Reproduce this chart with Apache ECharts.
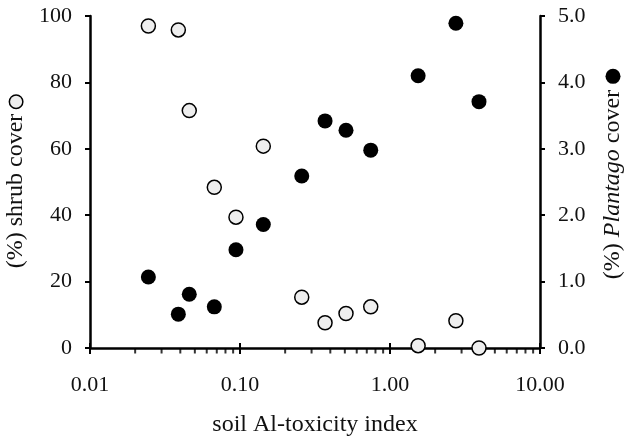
<!DOCTYPE html>
<html>
<head>
<meta charset="utf-8">
<script src="https://cdn.jsdelivr.net/npm/echarts@6/dist/echarts.min.js"></script>
<style>
  html, body { margin: 0; padding: 0; background: #fff; }
  #chart { width: 626px; height: 439px; }
</style>
</head>
<body>
<div id="chart"></div>
<script>
// soil Al-toxicity index per site (shared by both series)
var alIndex = [0.0245, 0.0388, 0.0459, 0.0674, 0.094, 0.143, 0.258, 0.369, 0.509, 0.744, 1.54, 2.75, 3.92];
// (%) shrub cover - left axis
var shrubCover = [97.0, 95.8, 71.5, 48.4, 39.4, 60.8, 15.3, 7.6, 10.4, 12.4, 0.7, 8.2, 0];
// (%) Plantago cover - right axis
var plantagoCover = [1.07, 0.51, 0.81, 0.62, 1.48, 1.86, 2.59, 3.42, 3.28, 2.98, 4.10, 4.89, 3.71];
// minor log ticks on x axis
var minorTicks = [0.02, 0.03, 0.04, 0.05, 0.06, 0.07, 0.08, 0.09,
                  0.2, 0.3, 0.4, 0.5, 0.6, 0.7, 0.8, 0.9,
                  2, 3, 4, 5, 6, 7, 8, 9];

var font = 'Liberation Serif';

function pairs(xs, ys) {
  return xs.map(function (x, i) { return [x, ys[i]]; });
}

var chart = echarts.init(document.getElementById('chart'));

var option = {
  backgroundColor: '#fff',
  animation: false,
  grid: { left: 90, right: 86, top: 16, bottom: 91, containLabel: false, outerBoundsMode: 'none' },
  xAxis: [
    {
      type: 'log',
      logBase: 10,
      min: 0.01,
      max: 10,
      name: 'soil Al-toxicity index',
      nameLocation: 'middle',
      nameGap: 65,
      nameTextStyle: { fontFamily: font, fontSize: 24, color: '#111' },
      axisLine: { lineStyle: { color: '#000', width: 2.5 } },
      axisTick: { inside: false, length: 6, lineStyle: { color: '#000', width: 2 } },
      axisLabel: {
        fontFamily: font, fontSize: 22, color: '#111', margin: 26,
        formatter: function (v) { return v.toFixed(2); }
      },
      splitLine: { show: false }
    },
    {
      // inner half of the major ticks (they cross the axis line)
      type: 'log',
      logBase: 10,
      min: 0.01,
      max: 10,
      position: 'bottom',
      axisLine: { show: false },
      axisTick: { inside: true, length: 5, lineStyle: { color: '#000', width: 2 } },
      axisLabel: { show: false },
      splitLine: { show: false }
    }
  ],
  yAxis: [
    {
      type: 'value',
      min: 0,
      max: 100,
      interval: 20,
      name: '(%) shrub cover {o|}',
      nameLocation: 'middle',
      nameRotate: 90,
      nameGap: 57,
      nameTextStyle: {
        fontFamily: font, fontSize: 24, color: '#111',
        rich: {
          o: {
            width: 12, height: 12, borderRadius: 7,
            backgroundColor: '#eeeeee', borderColor: '#000', borderWidth: 1.5
          }
        }
      },
      axisLine: { show: true, lineStyle: { color: '#000', width: 2.5 } },
      axisTick: { show: true, length: 5, lineStyle: { color: '#000', width: 2 } },
      axisLabel: { fontFamily: font, fontSize: 22, color: '#111', margin: 18 },
      splitLine: { show: false }
    },
    {
      type: 'value',
      min: 0,
      max: 5,
      interval: 1,
      position: 'right',
      name: '(%) {i|Plantago} cover {d|}',
      nameLocation: 'middle',
      nameRotate: 90,
      nameGap: 61,
      nameTextStyle: {
        fontFamily: font, fontSize: 24, color: '#111',
        padding: [0, 0, 0, 16],
        rich: {
          i: { fontFamily: font, fontSize: 24, fontStyle: 'italic', color: '#111' },
          d: { width: 15, height: 15, borderRadius: 8, backgroundColor: '#000' }
        }
      },
      axisLine: { show: true, lineStyle: { color: '#000', width: 2.5 } },
      axisTick: { show: true, length: 5, lineStyle: { color: '#000', width: 2 } },
      axisLabel: {
        fontFamily: font, fontSize: 22, color: '#111', margin: 18,
        formatter: function (v) { return v.toFixed(1); }
      },
      splitLine: { show: false }
    }
  ],
  series: [
    {
      name: 'minor ticks',
      type: 'scatter',
      xAxisIndex: 0,
      yAxisIndex: 0,
      silent: true,
      symbol: 'rect',
      symbolSize: [2, 5],
      symbolOffset: [0, 3],
      itemStyle: { color: '#000' },
      data: minorTicks.map(function (v) { return [v, 0]; }),
      z: 1
    },
    {
      name: 'shrub cover',
      type: 'scatter',
      xAxisIndex: 0,
      yAxisIndex: 0,
      symbol: 'circle',
      symbolSize: 14,
      itemStyle: { color: '#eeeeee', borderColor: '#000', borderWidth: 1.5, opacity: 1 },
      data: pairs(alIndex, shrubCover),
      z: 3
    },
    {
      name: 'Plantago cover',
      type: 'scatter',
      xAxisIndex: 0,
      yAxisIndex: 1,
      symbol: 'circle',
      symbolSize: 15,
      itemStyle: { color: '#000', opacity: 1 },
      data: pairs(alIndex, plantagoCover),
      z: 3
    }
  ]
};

chart.setOption(option);
</script>
</body>
</html>
